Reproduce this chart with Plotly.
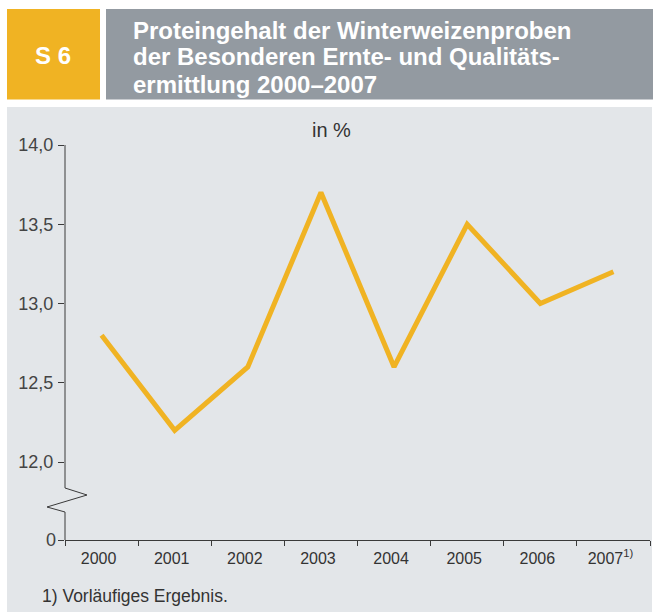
import plotly.graph_objects as go

years = ["2000", "2001", "2002", "2003", "2004", "2005", "2006", "2007"]
protein = [12.8, 12.2, 12.6, 13.7, 12.6, 13.5, 13.0, 13.2]
x_labels = ["2000", "2001", "2002", "2003", "2004", "2005", "2006", "2007<sup>1)</sup>"]
y_tickvals = [12.0, 12.5, 13.0, 13.5, 14.0]
y_ticktext = ["12,0", "12,5", "13,0", "13,5", "14,0"]
y_zero_label = "0"
title_lines = ["Proteingehalt der Winterweizenproben",
               "der Besonderen Ernte- und Qualitäts-",
               "ermittlung 2000–2007"]
badge = "S 6"
unit = "in %"
footnote = "1) Vorläufiges Ergebnis."

W, H = 653, 612
L, R, T, B = 65, 650, 145, 540
Y_MIN, Y_MAX = 11.508, 14.0

def px(x):
    return (x - L) / (R - L)

def py(y):
    return (B - y) / (B - T)

def yval(pix):
    return Y_MAX - (pix - T) / (B - T) * (Y_MAX - Y_MIN)

ORANGE = "#f0b323"
GRAY = "#939aa1"
PANEL = "#e3e6e9"
AX = "#3a3a3a"
FONT = "Liberation Sans, Arial, sans-serif"
TFONT = "Liberation Sans, Arial, sans-serif"

idx = list(range(len(years)))
fig = go.Figure()
fig.add_trace(go.Scatter(x=idx, y=protein, mode="lines",
                         line=dict(color=ORANGE, width=5),
                         hoverinfo="skip", showlegend=False))

shapes = [
    dict(type="rect", xref="paper", yref="paper", x0=px(7), x1=px(652), y0=py(612), y1=py(107),
         fillcolor=PANEL, line=dict(width=0), layer="below"),
    dict(type="rect", xref="paper", yref="paper", x0=px(7), x1=px(100), y0=py(99.5), y1=py(9),
         fillcolor=ORANGE, line=dict(width=0), layer="below"),
    dict(type="rect", xref="paper", yref="paper", x0=px(106), x1=px(653), y0=py(99.5), y1=py(9),
         fillcolor=GRAY, line=dict(width=0), layer="below"),
    # broken y axis line with zigzag
    dict(type="path", xref="paper", yref="y", xsizemode="pixel", xanchor=0,
         path=f"M 0,{Y_MAX} L 0,{yval(488)} L 22,{yval(495)} L -18,{yval(507)} L 0,{yval(512)} L 0,{Y_MIN}",
         line=dict(color=AX, width=1)),
]

annotations = [
    dict(text=badge, x=px(53), y=py(56), xref="paper", yref="paper", showarrow=False,
         xanchor="center", yanchor="middle", font=dict(family=TFONT, size=24, color="white", weight="bold")),
    dict(text=unit, x=px(331), y=py(130), xref="paper", yref="paper", showarrow=False,
         xanchor="center", yanchor="middle", font=dict(family=FONT, size=20, color="#333333")),
    dict(text=footnote, x=px(40), y=py(596), xref="paper", yref="paper", showarrow=False,
         xanchor="left", yanchor="middle", font=dict(family=FONT, size=17.5, color="#333333")),
    dict(text=y_zero_label, x=0, y=Y_MIN, xref="paper", yref="y", showarrow=False,
         xanchor="right", yanchor="middle", xshift=-7, font=dict(family=FONT, size=18, color="#444444")),
]
for line, ypix in zip(title_lines, [30, 57, 84]):
    annotations.append(dict(text=line, x=px(131), y=py(ypix), xref="paper", yref="paper",
                            showarrow=False, xanchor="left", yanchor="middle",
                            font=dict(family=TFONT, size=24, color="white", weight="bold")))

fig.update_layout(
    width=W, height=H,
    margin=dict(l=L, r=W - R, t=T, b=H - B, pad=0),
    paper_bgcolor="white", plot_bgcolor="rgba(0,0,0,0)",
    shapes=shapes, annotations=annotations,
    showlegend=False,
    xaxis=dict(range=[-0.5, len(years) - 0.5], tickvals=idx, ticktext=x_labels,
               ticks="", showgrid=False, zeroline=False, showline=True, linecolor=AX, linewidth=1,
               tickfont=dict(family=FONT, size=16, color="#333333"), ticklabelstandoff=4,
               ticklabelshift=-3,
               minor=dict(tickvals=[i - 0.5 for i in range(len(years) + 1)], ticks="outside",
                          ticklen=5, tickcolor=AX, tickwidth=1, showgrid=False),
               fixedrange=True),
    yaxis=dict(range=[Y_MIN, Y_MAX], tickvals=y_tickvals + [Y_MIN], ticktext=y_ticktext + [""],
               ticks="outside", ticklen=6, tickcolor=AX, showgrid=False, zeroline=False,
               showline=False, tickfont=dict(family=FONT, size=18, color="#444444"),
               ticklabelstandoff=1, fixedrange=True),
)

fig.write_html("out.html", config={"displayModeBar": False},
               post_script="document.body.style.margin='0px';")
